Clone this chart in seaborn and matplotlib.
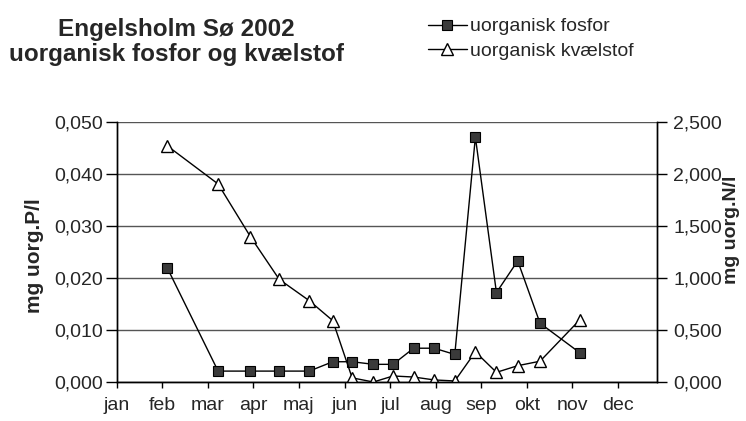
import matplotlib
matplotlib.use("Agg")
import matplotlib.pyplot as plt
from matplotlib.ticker import FuncFormatter, FixedLocator
import seaborn as sns
import pandas as pd

sample_dates = ["2002-02-04", "2002-03-08", "2002-03-30", "2002-04-18", "2002-05-08",
                "2002-05-24", "2002-06-06", "2002-06-20", "2002-07-03", "2002-07-17",
                "2002-07-31", "2002-08-14", "2002-08-28", "2002-09-11", "2002-09-25",
                "2002-10-10", "2002-11-06"]
fosfor = [0.0220, 0.0021, 0.0021, 0.0021, 0.0021, 0.0039, 0.0039, 0.0034, 0.0034,
          0.0065, 0.0065, 0.0053, 0.0471, 0.0172, 0.0233, 0.0113, 0.0056]
kvaelstof = [2.272, 1.904, 1.397, 0.987, 0.782, 0.590, 0.040, 0.000, 0.058, 0.048,
             0.020, 0.010, 0.290, 0.093, 0.157, 0.200, 0.600]
months = ["jan", "feb", "mar", "apr", "maj", "jun", "jul", "aug", "sep", "okt", "nov", "dec"]

d = pd.to_datetime(pd.Series(sample_dates))
df = pd.DataFrame({
    "x": d.dt.month - 1 + (d.dt.day - 1) / d.dt.days_in_month,
    "P": fosfor,
    "N": kvaelstof,
})

sns.set_style("white")
plt.rcParams["font.family"] = ["Liberation Sans", "DejaVu Sans"]

fig = plt.figure(figsize=(7.46, 4.21), dpi=100)
ax = fig.add_axes([0.1564, 0.0926, 0.7239, 0.6176])
ax2 = ax.twinx()

sns.lineplot(data=df, x="x", y="P", ax=ax, color="black", lw=1, marker="s",
             markersize=7.5, markerfacecolor="#3a3a3a", markeredgecolor="black",
             markeredgewidth=0.8, label="uorganisk fosfor", legend=False)
sns.lineplot(data=df, x="x", y="N", ax=ax2, color="black", lw=1, marker="^",
             markersize=8, markerfacecolor="white", markeredgecolor="black",
             markeredgewidth=1.0, label="uorganisk kvælstof", legend=False)

ax.set_xlim(0, 11.85)
ax.set_ylim(0, 0.05)
ax2.set_ylim(0, 2.5)
ax.set_yticks([0, 0.01, 0.02, 0.03, 0.04, 0.05])
ax2.set_yticks([0, 0.5, 1.0, 1.5, 2.0, 2.5])
ax.yaxis.set_major_formatter(FuncFormatter(lambda v, p: f"{v:.3f}".replace(".", ",")))
ax2.yaxis.set_major_formatter(FuncFormatter(lambda v, p: f"{v:.3f}".replace(".", ",")))
ax.xaxis.set_major_locator(FixedLocator(range(12)))
ax.set_xticklabels(months)

ax.grid(axis="y", color="#555555", lw=1)
ax.grid(axis="x", visible=False)
ax2.grid(False)
for a in (ax, ax2):
    for s in a.spines.values():
        s.set_color("black")
        s.set_linewidth(1)
    a.spines["top"].set_visible(False)

ax.tick_params(axis="x", direction="out", length=4.5, width=1, color="black",
               labelsize=14, pad=6, bottom=True)
ax.tick_params(axis="y", direction="out", length=8, width=1, color="black",
               labelsize=14, pad=2, left=True)
ax2.tick_params(axis="y", direction="out", length=7, width=1, color="black",
                labelsize=14, pad=5, right=True)

ax.set_xlabel("")
ax.set_ylabel("mg uorg.P/l", fontsize=15, fontweight="bold")
ax.yaxis.set_label_coords(-0.135, 0.488)
ax2.set_ylabel("mg uorg.N/l", fontsize=14, fontweight="bold", rotation=90)
ax2.yaxis.set_label_coords(1.122, 0.585)

fig.text(0.237, 0.90, "Engelsholm Sø 2002\nuorganisk fosfor og kvælstof",
         ha="center", va="center", fontsize=17.5, fontweight="bold", linespacing=1.15)

handles = [ax.lines[0], ax2.lines[0]]
fig.legend(handles, [h.get_label() for h in handles], loc="upper left",
           bbox_to_anchor=(0.555, 0.99), frameon=False, fontsize=14,
           handlelength=2.0, handletextpad=0.2, labelspacing=0.35, borderpad=0.2)

fig.savefig("out.png", dpi=100)
